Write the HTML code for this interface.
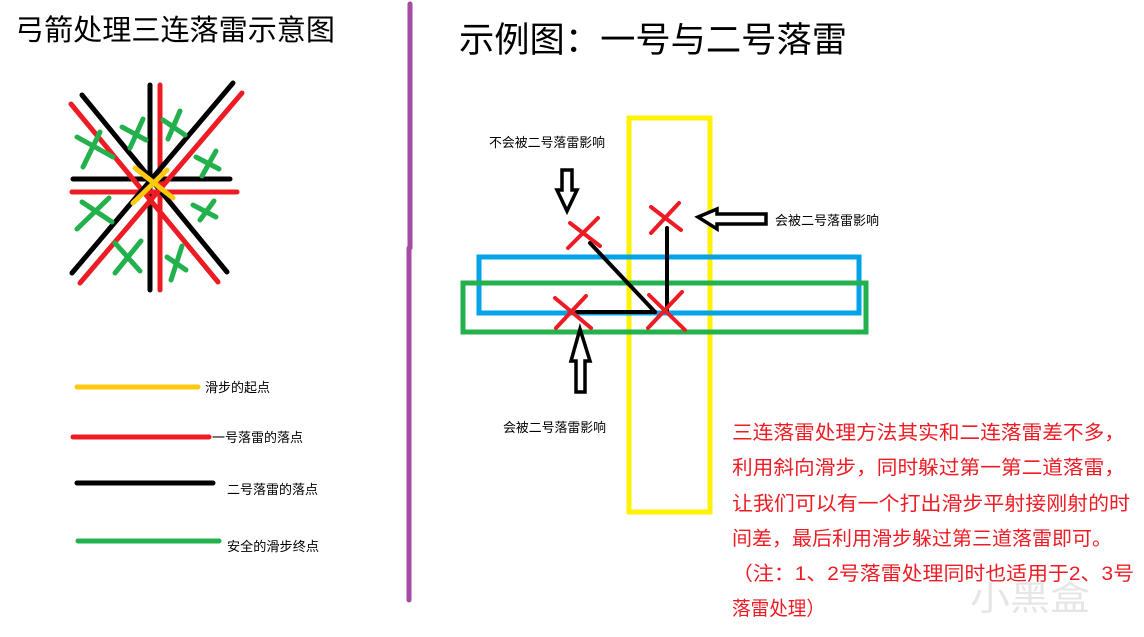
<!DOCTYPE html>
<html><head><meta charset="utf-8"><style>
html,body{margin:0;padding:0;background:#fff;}
svg{display:block;}
text{font-family:"Liberation Sans","Noto Sans CJK SC","Microsoft YaHei",sans-serif;}
</style></head><body>
<svg width="1144" height="637" viewBox="0 0 1144 637" xmlns="http://www.w3.org/2000/svg">
<rect width="1144" height="637" fill="#fff"/>
<!-- titles -->
<text x="15" y="40" font-size="29" fill="#000" textLength="320" lengthAdjust="spacingAndGlyphs">弓箭处理三连落雷示意图</text>
<text x="459" y="52" font-size="35" fill="#000" textLength="388" lengthAdjust="spacingAndGlyphs">示例图：一号与二号落雷</text>
<!-- purple divider -->
<line x1="410" y1="4" x2="410" y2="248" stroke="#a54aa5" stroke-width="5" stroke-linecap="round"/>
<line x1="409" y1="248" x2="409" y2="600" stroke="#a54aa5" stroke-width="5" stroke-linecap="round"/>

<!-- left star diagram -->
<g stroke-width="5" stroke-linecap="round" fill="none">
<line x1="150" y1="85" x2="150" y2="290" stroke="#000"/>
<line x1="160" y1="85" x2="160" y2="290" stroke="#ed1c24"/>
<line x1="73" y1="179" x2="230" y2="179" stroke="#000"/>
<line x1="72" y1="192" x2="237" y2="192" stroke="#ed1c24"/>
<line x1="82" y1="95" x2="227" y2="272" stroke="#000"/>
<line x1="71" y1="104" x2="218" y2="282" stroke="#ed1c24"/>
<line x1="72" y1="273" x2="233" y2="83" stroke="#000"/>
<line x1="80" y1="283" x2="242" y2="93" stroke="#ed1c24"/>
<line x1="135" y1="168" x2="173" y2="198" stroke="#ffc90e"/>
<line x1="133" y1="203" x2="167" y2="170" stroke="#ffc90e"/>
<g stroke="#22b14c">
<line x1="77" y1="137" x2="113" y2="157"/><line x1="100" y1="132" x2="83" y2="167"/>
<line x1="122" y1="127" x2="146" y2="140"/><line x1="143" y1="119" x2="130" y2="148"/>
<line x1="163" y1="120" x2="185" y2="135"/><line x1="180" y1="111" x2="168" y2="139"/>
<line x1="196" y1="157" x2="219" y2="169"/><line x1="216" y1="151" x2="202" y2="176"/>
<line x1="82" y1="202" x2="112" y2="222"/><line x1="109" y1="198" x2="77" y2="229"/>
<line x1="193" y1="205" x2="216" y2="217"/><line x1="214" y1="201" x2="200" y2="220"/>
<line x1="115" y1="243" x2="140" y2="271"/><line x1="141" y1="241" x2="115" y2="273"/>
<line x1="167" y1="257" x2="186" y2="270"/><line x1="182" y1="246" x2="171" y2="280"/>
</g>
</g>

<!-- legend -->
<g stroke-width="5" stroke-linecap="round">
<line x1="77" y1="387" x2="198" y2="387" stroke="#ffc90e"/>
<line x1="73" y1="437" x2="209" y2="437" stroke="#ed1c24"/>
<line x1="77" y1="483" x2="213" y2="483" stroke="#000"/>
<line x1="78" y1="541" x2="219" y2="541" stroke="#22b14c"/>
</g>
<g font-size="13" fill="#000">
<text x="205" y="392" textLength="65" lengthAdjust="spacingAndGlyphs">滑步的起点</text>
<text x="212" y="442" textLength="91" lengthAdjust="spacingAndGlyphs">一号落雷的落点</text>
<text x="227" y="494" textLength="91" lengthAdjust="spacingAndGlyphs">二号落雷的落点</text>
<text x="227" y="551" textLength="92" lengthAdjust="spacingAndGlyphs">安全的滑步终点</text>
</g>

<!-- right diagram -->
<g fill="none" stroke-width="5">
<rect x="629" y="118" width="81" height="394" stroke="#fff200"/>
<rect x="479" y="257" width="380" height="56" stroke="#00a2e8"/>
<rect x="463" y="283" width="403" height="49" stroke="#22b14c"/>
</g>
<g stroke="#000" stroke-width="4" fill="none" stroke-linecap="round">
<line x1="590" y1="243" x2="655" y2="312"/>
<line x1="667" y1="228" x2="667" y2="312"/>
<line x1="577" y1="312" x2="655" y2="312"/>
</g>
<g stroke="#ed1c24" stroke-width="4" stroke-linecap="round">
<line x1="570" y1="223" x2="600" y2="246"/><line x1="598" y1="218" x2="568" y2="248"/>
<line x1="651" y1="207" x2="681" y2="230"/><line x1="679" y1="203" x2="651" y2="233"/>
<line x1="555" y1="298" x2="591" y2="328"/><line x1="586" y1="296" x2="556" y2="328"/>
<line x1="649" y1="295" x2="685" y2="330"/><line x1="682" y1="292" x2="648" y2="328"/>
</g>
<g stroke="#000" stroke-width="3.5" fill="#fff" stroke-linejoin="miter">
<polygon points="562,170 572,170 572,190 577,190 567,211 557,190 562,190"/>
<polygon points="698,217 717,209 717,214 766,214 766,224 717,224 717,229"/>
<polygon points="580,329 590,361 585,361 585,392 576,392 576,361 571,361"/>
</g>
<g font-size="13" fill="#000">
<text x="489" y="147" textLength="116" lengthAdjust="spacingAndGlyphs">不会被二号落雷影响</text>
<text x="775" y="225" textLength="104" lengthAdjust="spacingAndGlyphs">会被二号落雷影响</text>
<text x="503" y="432" textLength="103" lengthAdjust="spacingAndGlyphs">会被二号落雷影响</text>
</g>

<!-- red paragraph -->
<g font-size="19.5" fill="#ed1c24">
<text x="732" y="439" textLength="393" lengthAdjust="spacingAndGlyphs">三连落雷处理方法其实和二连落雷差不多，</text>
<text x="732" y="474" textLength="393" lengthAdjust="spacingAndGlyphs">利用斜向滑步，同时躲过第一第二道落雷，</text>
<text x="732" y="510" textLength="398" lengthAdjust="spacingAndGlyphs">让我们可以有一个打出滑步平射接刚射的时</text>
<text x="732" y="545" textLength="380" lengthAdjust="spacingAndGlyphs">间差，最后利用滑步躲过第三道落雷即可。</text>
<text x="732" y="580" textLength="402" lengthAdjust="spacingAndGlyphs">（注：1、2号落雷处理同时也适用于2、3号</text>
<text x="732" y="615" textLength="93" lengthAdjust="spacingAndGlyphs">落雷处理）</text>
</g>
<text x="970" y="610" font-size="34" fill="#e6e6e6" textLength="120" lengthAdjust="spacingAndGlyphs">小黑盒</text>
</svg>
</body></html>
